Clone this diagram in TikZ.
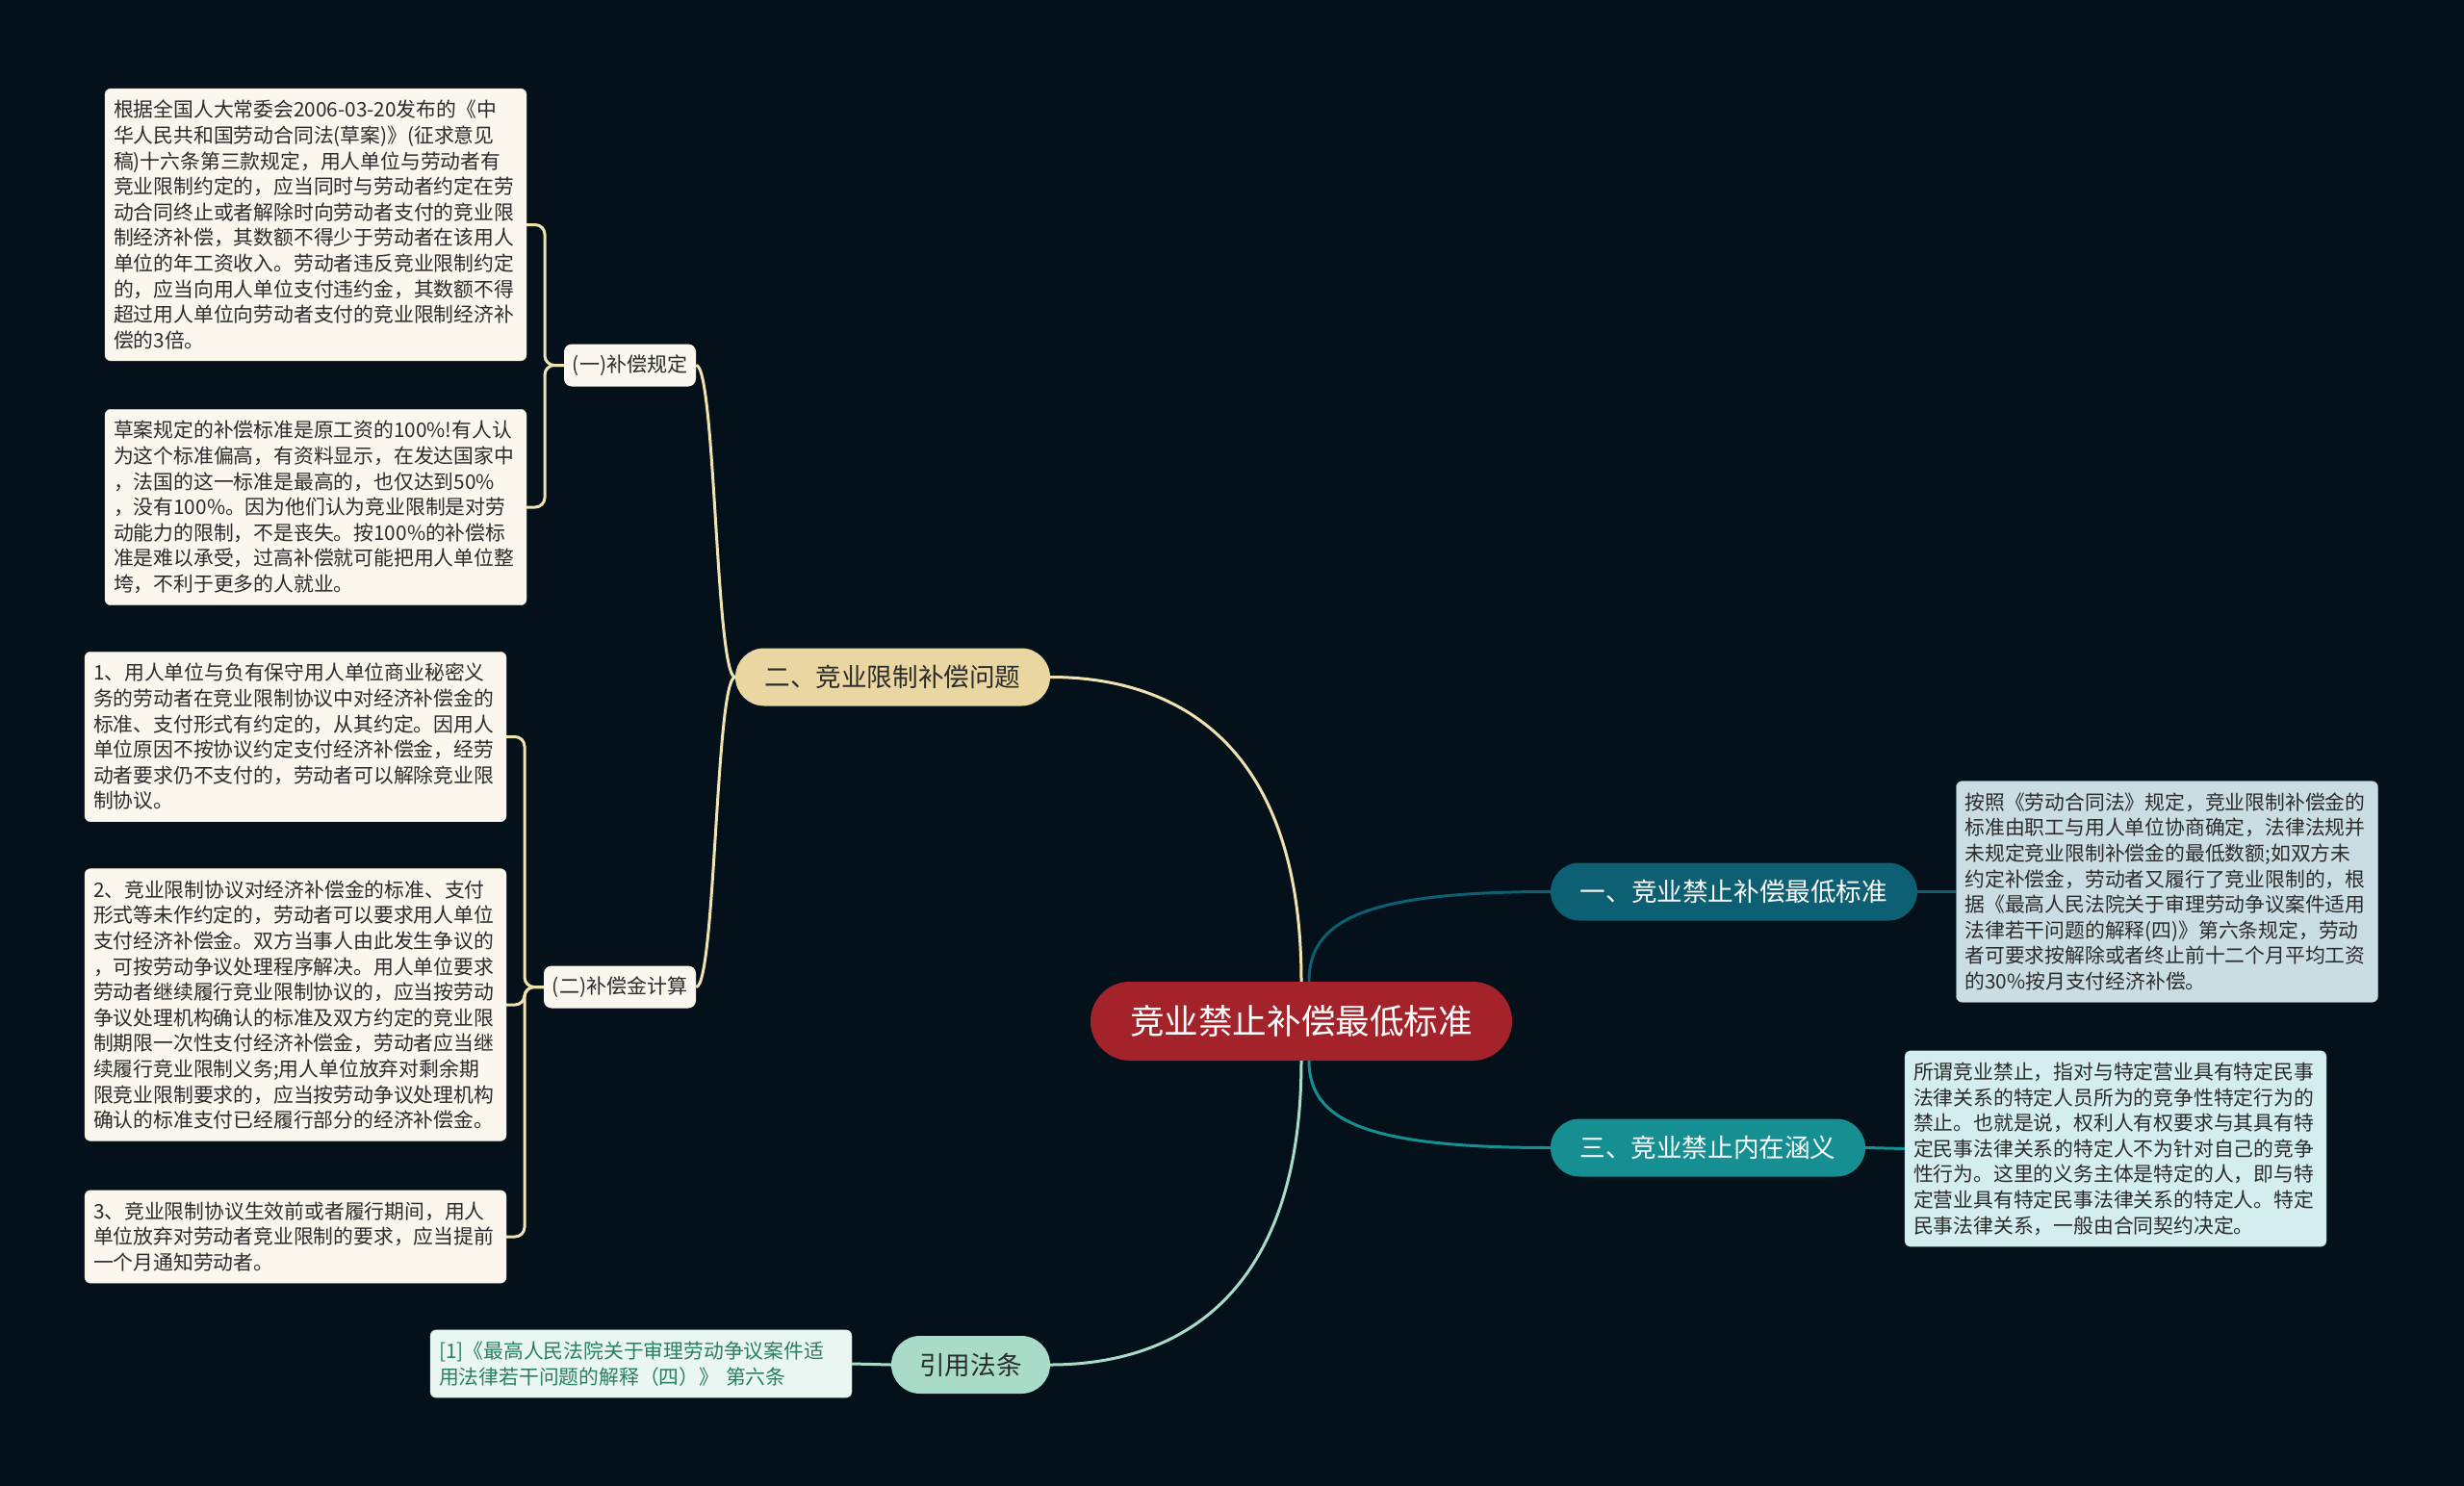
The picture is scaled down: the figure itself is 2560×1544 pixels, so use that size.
\documentclass[tikz,border=0pt]{standalone}
\usepackage{fontspec}
\setmainfont{Noto Sans CJK SC}
\usetikzlibrary{shapes.misc}

\definecolor{bgdark}{HTML}{04111A}
\definecolor{rootred}{HTML}{A4232B}
\definecolor{tanfill}{HTML}{E9D6A0}
\definecolor{tanline}{HTML}{F1E2B2}
\definecolor{tealdark}{HTML}{0D5F73}
\definecolor{teallight}{HTML}{168F93}
\definecolor{mintfill}{HTML}{A8DCC8}
\definecolor{cream}{HTML}{FCF7EE}
\definecolor{creamedge}{HTML}{E6DCC8}
\definecolor{bluegray}{HTML}{C9DDE3}
\definecolor{bluegrayedge}{HTML}{A9C4CC}
\definecolor{paleteal}{HTML}{D4EEF0}
\definecolor{palemint}{HTML}{EAF6F1}
\definecolor{citegreen}{HTML}{2A7F63}
\definecolor{textdark}{HTML}{2B2B2B}

\newcommand{\leafsize}{\fontsize{20.8}{26.6}\selectfont}

\begin{document}
\begin{tikzpicture}[x=1pt,y=-1pt,
    root/.style={rounded rectangle, fill=rootred, text=white, minimum width=438pt,
      minimum height=82pt, inner sep=0pt, font=\fontsize{35.6}{40}\selectfont},
    branch/.style={rounded rectangle, minimum height=60pt, inner sep=0pt,
      font=\fontsize{26.6}{30}\selectfont},
    sub/.style={rectangle, rounded corners=8pt, fill=cream, text=textdark, inner sep=0pt,
      minimum height=44pt, font=\fontsize{21}{24}\selectfont},
    leaf/.style={rectangle, rounded corners=6pt, text width=420pt, align=left,
      inner xsep=9pt, inner ysep=12pt, font=\leafsize, text=textdark},
    link/.style={line width=3pt}]

        \useasboundingbox (0,0) rectangle (2560,1544);
        \fill[bgdark] (0,0) rectangle (2560,1544);

        % main topic and branches
        \node[root] (root) at (1352,1061) {竞业禁止补偿最低标准};
        \node[branch, fill=tanfill, text=textdark, minimum width=327pt] (limit) at (927.5,703.5) {二、竞业限制补偿问题};
        \node[branch, fill=tealdark, text=white, minimum width=381pt] (lowest) at (1801.5,926.5) {一、竞业禁止补偿最低标准};
        \node[branch, fill=teallight, text=white, minimum width=327pt] (meaning) at (1774.5,1192.5) {三、竞业禁止内在涵义};
        \node[branch, fill=mintfill, text=textdark, minimum width=165pt] (cite) at (1008.5,1418) {引用法条};

        \node[sub, minimum width=137pt] (rule) at (654.5,379.5) {(一)补偿规定};
        \node[sub, minimum width=158pt] (calc) at (644,1025.5) {(二)补偿金计算};

        % leaves
        \node[leaf, draw=creamedge, fill=cream] (ruleA) at (328,233.5) {根据全国人大常委会2006-03-20发布的《中\\华人民共和国劳动合同法(草案)》(征求意见\\稿)十六条第三款规定，用人单位与劳动者有\\竞业限制约定的，应当同时与劳动者约定在劳\\动合同终止或者解除时向劳动者支付的竞业限\\制经济补偿，其数额不得少于劳动者在该用人\\单位的年工资收入。劳动者违反竞业限制约定\\的，应当向用人单位支付违约金，其数额不得\\超过用人单位向劳动者支付的竞业限制经济补\\偿的3倍。};
        \node[leaf, draw=creamedge, fill=cream] (ruleB) at (328,527) {草案规定的补偿标准是原工资的100\%!有人认\\为这个标准偏高，有资料显示，在发达国家中\\，法国的这一标准是最高的，也仅达到50\%\\，没有100\%。因为他们认为竞业限制是对劳\\动能力的限制，不是丧失。按100\%的补偿标\\准是难以承受，过高补偿就可能把用人单位整\\垮，不利于更多的人就业。};
        \node[leaf, draw=creamedge, fill=cream] (calcA) at (307,765.5) {1、用人单位与负有保守用人单位商业秘密义\\务的劳动者在竞业限制协议中对经济补偿金的\\标准、支付形式有约定的，从其约定。因用人\\单位原因不按协议约定支付经济补偿金，经劳\\动者要求仍不支付的，劳动者可以解除竞业限\\制协议。};
        \node[leaf, draw=creamedge, fill=cream] (calcB) at (307,1044) {2、竞业限制协议对经济补偿金的标准、支付\\形式等未作约定的，劳动者可以要求用人单位\\支付经济补偿金。双方当事人由此发生争议的\\，可按劳动争议处理程序解决。用人单位要求\\劳动者继续履行竞业限制协议的，应当按劳动\\争议处理机构确认的标准及双方约定的竞业限\\制期限一次性支付经济补偿金，劳动者应当继\\续履行竞业限制义务;用人单位放弃对剩余期\\限竞业限制要求的，应当按劳动争议处理机构\\确认的标准支付已经履行部分的经济补偿金。};
        \node[leaf, draw=creamedge, fill=cream] (calcC) at (307,1285) {3、竞业限制协议生效前或者履行期间，用人\\单位放弃对劳动者竞业限制的要求，应当提前\\一个月通知劳动者。};
        \node[leaf, draw=bluegrayedge, fill=bluegray] (lowestA) at (2251.5,926.5) {按照《劳动合同法》规定，竞业限制补偿金的\\标准由职工与用人单位协商确定，法律法规并\\未规定竞业限制补偿金的最低数额;如双方未\\约定补偿金，劳动者又履行了竞业限制的，根\\据《最高人民法院关于审理劳动争议案件适用\\法律若干问题的解释(四)》第六条规定，劳动\\者可要求按解除或者终止前十二个月平均工资\\的30\%按月支付经济补偿。};
        \node[leaf, draw=bluegrayedge, fill=paleteal] (meaningA) at (2198,1193.5) {所谓竞业禁止，指对与特定营业具有特定民事\\法律关系的特定人员所为的竞争性特定行为的\\禁止。也就是说，权利人有权要求与其具有特\\定民事法律关系的特定人不为针对自己的竞争\\性行为。这里的义务主体是特定的人，即与特\\定营业具有特定民事法律关系的特定人。特定\\民事法律关系，一般由合同契约决定。};
        \node[leaf, draw=mintfill, fill=palemint, text=citegreen] (citeA) at (666,1417) {[1]《最高人民法院关于审理劳动争议案件适\\用法律若干问题的解释（四）》 第六条};

        % bracket spines
        \coordinate (ruleSpine) at (566,379.5);
        \coordinate (calcSpine) at (545,1025.5);

        \draw[link, tanline] (root.north) .. controls (1352,770) and (1220,703.5) .. (limit.east);
        \draw[link, tealdark] ([xshift=8pt]root.north) .. controls (1360,955) and (1420,926.5) .. (lowest.west);
        \draw[link, teallight] ([xshift=8pt]root.south) .. controls (1360,1165) and (1420,1192.5) .. (meaning.west);
        \draw[link, mintfill] (root.south) .. controls (1352,1350) and (1220,1418) .. (cite.east);

        \draw[link, tanline] (limit.west) .. controls (743.5,703.5) and (743.5,379.5) .. (rule.east);
        \draw[link, tanline] (limit.west) .. controls (743.5,703.5) and (743.5,1025.5) .. (calc.east);

        \draw[link, tanline, rounded corners=10pt] (rule.west) -- (ruleSpine) |- (ruleA.east);
        \draw[link, tanline, rounded corners=10pt] (rule.west) -- (ruleSpine) |- (ruleB.east);
        \draw[link, tanline, rounded corners=10pt] (calc.west) -- (calcSpine) |- (calcA.east);
        \draw[link, tanline, rounded corners=10pt] (calc.west) -- (calcSpine) |- (calcB.east);
        \draw[link, tanline, rounded corners=10pt] (calc.west) -- (calcSpine) |- (calcC.east);

        \draw[link, tealdark] (lowest.east) -- (lowestA.west);
        \draw[link, teallight] (meaning.east) -- (meaningA.west);
        \draw[link, mintfill] (cite.west) -- (citeA.east);
\end{tikzpicture}
\end{document}
